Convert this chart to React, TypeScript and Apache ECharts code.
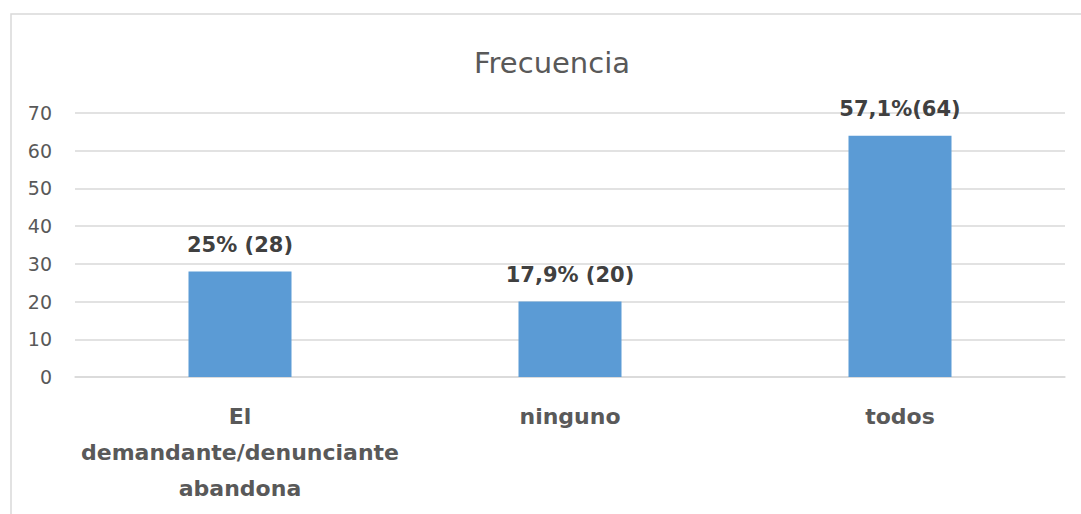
import React, { useEffect, useRef } from "react";
import * as echarts from "echarts";

const categories = ["El\ndemandante/denunciante\nabandona", "ninguno", "todos"];
const values = [28, 20, 64];
const valueLabels = ["25% (28)", "17,9% (20)", "57,1%(64)"];
const chartTitle = "Frecuencia";

export default function App() {
  const ref = useRef<HTMLDivElement>(null);
  useEffect(() => {
    if (!ref.current) return;
    const chart = echarts.init(ref.current, null, { renderer: "svg" });
    const font = "DejaVu Sans";
    chart.setOption({
      animation: false,
      backgroundColor: "#ffffff",
      title: {
        text: chartTitle,
        left: 547,
        top: 58,
        textAlign: "center",
        textVerticalAlign: "middle",
        textStyle: { fontFamily: font, fontSize: 29, fontWeight: "normal", color: "#595959" },
      },
      graphic: [
        {
          type: "rect",
          shape: { x: 11, y: 14, width: 1200, height: 700 },
          style: { fill: "none", stroke: "#d9d9d9", lineWidth: 1.5 },
          silent: true,
        },
      ],
      grid: { left: 75, right: 16, top: 113, bottom: 137, containLabel: false },
      xAxis: {
        type: "category",
        data: categories,
        axisLine: { show: true, lineStyle: { color: "#d9d9d9", width: 1.5 } },
        axisTick: { show: false },
        axisLabel: {
          interval: 0,
          margin: 21,
          fontFamily: font,
          fontSize: 22,
          fontWeight: "bold",
          color: "#595959",
          lineHeight: 36,
        },
      },
      yAxis: {
        type: "value",
        min: 0,
        max: 70,
        interval: 10,
        axisLine: { show: false },
        axisTick: { show: false },
        splitLine: { lineStyle: { color: "#d9d9d9", width: 1.5 } },
        axisLabel: { margin: 23, fontFamily: font, fontSize: 19, color: "#595959" },
      },
      series: [
        {
          type: "bar",
          data: values,
          barWidth: 103,
          itemStyle: { color: "#5B9BD5" },
          label: {
            show: true,
            position: "top",
            distance: 16,
            fontFamily: font,
            fontSize: 21,
            fontWeight: "bold",
            color: "#404040",
            formatter: (p: any) => valueLabels[p.dataIndex],
          },
        },
      ],
    });
    return () => chart.dispose();
  }, []);
  return (
    <div
      ref={ref}
      style={{ position: "fixed", left: 0, top: 0, width: 1081, height: 514 }}
    />
  );
}
